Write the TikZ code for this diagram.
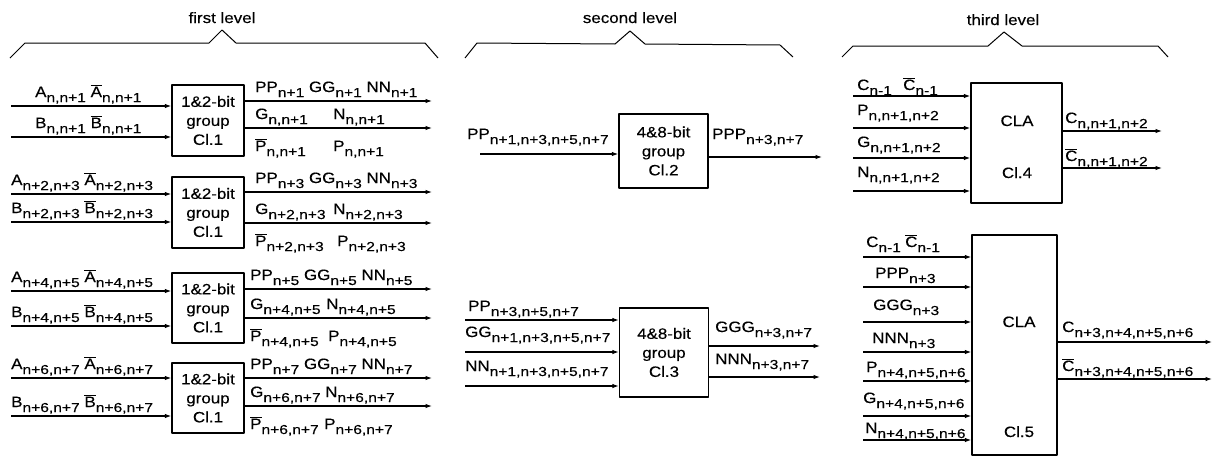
\documentclass[tikz,border=0pt]{standalone}
\usepackage{fontspec}
\setmainfont{Liberation Sans}[FakeStretch=1.13,FakeBold=0.3]
\newfontfamily\subfam{Liberation Sans}[FakeStretch=1.2,FakeBold=0.3]
\usetikzlibrary{arrows.meta}
\newcommand\sbx[1]{\raisebox{-5pt}{\subfam\fontsize{13}{13}\selectfont #1}}
\newcommand\ovb[1]{$\overline{\hbox{#1}}$}
\begin{document}
\begin{tikzpicture}[x=1pt,y=-1pt,line join=round,
  blk/.style={draw,line width=1.3pt,inner sep=0pt,align=center,font=\fontsize{15}{19}\selectfont},
  lab/.style={inner sep=0pt,anchor=base west,font=\fontsize{15}{18}\selectfont},
  ttl/.style={inner sep=0pt,anchor=base,font=\fontsize{15}{18}\selectfont},
  arr/.style={line width=1.1pt,-{Latex[length=6.5pt,width=4.5pt]}},
  brace/.style={line width=1pt}]
\useasboundingbox (0,0) rectangle (1214,466);

% level titles and braces
\node[ttl] (t1) at (222,23) {first level};
\draw[brace] (10,58) -- (25,43) -- (209,43) -- (222,30) -- (236,43) -- (425,43) -- (438,58);
\node[ttl] (t2) at (630,23) {second level};
\draw[brace] (465,58) -- (477,43) -- (615,44) -- (630,31) -- (645,44) -- (780,45) -- (793,57);
\node[ttl] (t3) at (1003,25) {third level};
\draw[brace] (842,57) -- (853,46) -- (988,46) -- (1004,32) -- (1022,46) -- (1158,46) -- (1168,57);

% first level
\foreach \j/\T/\Bo/\ya/\yb/\yo/\yp/\lx/\ox/\nx/\px/\pr/\sg in {
 1/85/156/106/137/101/128/35/255/333/333/{n,n+1}/{n+1},
 2/177/248/194/222/192/223/11/255/333/337/{n+2,n+3}/{n+3},
 3/273/343/291/326/289/318/11/250/326/328/{n+4,n+5}/{n+5},
 4/363/433/378/416/378/406/11/250/325/324/{n+6,n+7}/{n+7}}{
 \node[blk,minimum width=72pt,minimum height={(\Bo-\T)*1pt}] (b\j) at (208,{(\T+\Bo)/2}) {1\&2-bit\\group\\Cl.1};
 \coordinate (ia\j) at (11,\ya);
 \coordinate (ib\j) at (11,\yb);
 \coordinate (oa\j) at (432,\yo);
 \coordinate (ob\j) at (432,\yp);
 \draw[arr] (ia\j) -- (ia\j -| b\j.west);
 \draw[arr] (ib\j) -- (ib\j -| b\j.west);
 \draw[arr] (oa\j -| b\j.east) -- (oa\j);
 \draw[arr] (ob\j -| b\j.east) -- (ob\j);
 \node[lab] (la\j) at (\lx,\ya-9) {A\sbx{\pr} \ovb{A}\sbx{\pr}};
 \node[lab] (lb\j) at (\lx,\yb-9) {B\sbx{\pr} \ovb{B}\sbx{\pr}};
 \node[lab] (lo\j) at (\ox,\yo-9) {PP\sbx{\sg} GG\sbx{\sg} NN\sbx{\sg}};
 \node[lab] (lg\j) at (\ox,\yp-9) {G\sbx{\pr}};
 \node[lab] (ln\j) at (\nx,\yp-9) {N\sbx{\pr}};
 \node[lab] (lq\j) at (\ox,\yp+23) {\ovb{P}\sbx{\pr}};
 \node[lab] (lp\j) at (\px,\yp+23) {P\sbx{\pr}};
}

% second level
\node[blk,minimum width=89pt,minimum height=74pt] (c2) at (663.5,151) {4\&8-bit\\group\\Cl.2};
\coordinate (i2) at (480,154);
\draw[arr] (i2) -- (i2 -| c2.west);
\node[lab] (l2i) at (467,139) {PP\sbx{n+1,n+3,n+5,n+7}};
\coordinate (o2) at (822,157);
\draw[arr] (o2 -| c2.east) -- (o2);
\node[lab] (l2o) at (712,139) {PPP\sbx{n+3,n+7}};

\node[blk,minimum width=89pt,minimum height=89pt] (c3) at (664,352.5) {4\&8-bit\\group\\Cl.3};
\coordinate (i3a) at (465,320);
\coordinate (i3b) at (465,352);
\coordinate (i3c) at (465,386);
\draw[arr] (i3a) -- (i3a -| c3.west);
\draw[arr] (i3b) -- (i3b -| c3.west);
\draw[arr] (i3c) -- (i3c -| c3.west);
\node[lab] (l3a) at (468,311) {PP\sbx{n+3,n+5,n+7}};
\node[lab] (l3b) at (465,337) {GG\sbx{n+1,n+3,n+5,n+7}};
\node[lab] (l3c) at (465,371) {NN\sbx{n+1,n+3,n+5,n+7}};
\coordinate (o3a) at (820,346);
\coordinate (o3b) at (820,377);
\draw[arr] (o3a -| c3.east) -- (o3a);
\draw[arr] (o3b -| c3.east) -- (o3b);
\node[lab] (l3d) at (715,332) {GGG\sbx{n+3,n+7}};
\node[lab] (l3e) at (715,364) {NNN\sbx{n+3,n+7}};

% third level
\node[blk,minimum width=91pt,minimum height=120pt] (c4) at (1016.5,143) {};
\node[ttl] (c4a) at (1017,126) {CLA};
\node[ttl] (c4b) at (1017,178) {Cl.4};
\coordinate (i4a) at (853,96);
\coordinate (i4b) at (853,128);
\coordinate (i4c) at (853,158);
\coordinate (i4d) at (853,191);
\draw[arr] (i4a) -- (i4a -| c4.west);
\draw[arr] (i4b) -- (i4b -| c4.west);
\draw[arr] (i4c) -- (i4c -| c4.west);
\draw[arr] (i4d) -- (i4d -| c4.west);
\node[lab] (l4a) at (857,90) {C\sbx{n-1}};
\node[lab] (l4a2) at (903,90) {\ovb{C}\sbx{n-1}};
\node[lab] (l4b) at (857,115) {P\sbx{n,n+1,n+2}};
\node[lab] (l4c) at (857,147) {G\sbx{n,n+1,n+2}};
\node[lab] (l4d) at (857,177) {N\sbx{n,n+1,n+2}};
\coordinate (o4a) at (1162,131);
\coordinate (o4b) at (1162,168);
\draw[arr] (o4a -| c4.east) -- (o4a);
\draw[arr] (o4b -| c4.east) -- (o4b);
\node[lab] (l4e) at (1065,123) {C\sbx{n,n+1,n+2}};
\node[lab] (l4f) at (1065,161) {\ovb{C}\sbx{n,n+1,n+2}};

\node[blk,minimum width=85pt,minimum height=220pt] (c5) at (1014.5,345) {};
\node[ttl] (c5a) at (1019,327) {CLA};
\node[ttl] (c5b) at (1019,437) {Cl.5};
\foreach \k/\yy in {a/257,b/287,c/322,d/352,e/381,f/416,g/440}{
 \coordinate (i5\k) at (863,\yy);
 \draw[arr] (i5\k) -- (i5\k -| c5.west);
}
\node[lab] (l5a) at (866,247) {C\sbx{n-1}};
\node[lab] (l5a2) at (905,247) {\ovb{C}\sbx{n-1}};
\node[lab] (l5b) at (875,278) {PPP\sbx{n+3}};
\node[lab] (l5c) at (873,310) {GGG\sbx{n+3}};
\node[lab] (l5d) at (872,343) {NNN\sbx{n+3}};
\node[lab] (l5e) at (866,372) {P\sbx{n+4,n+5,n+6}};
\node[lab] (l5f) at (863,403) {G\sbx{n+4,n+5,n+6}};
\node[lab] (l5g) at (865,433) {N\sbx{n+4,n+5,n+6}};
\coordinate (o5a) at (1212,342);
\coordinate (o5b) at (1212,379);
\draw[arr] (o5a -| c5.east) -- (o5a);
\draw[arr] (o5b -| c5.east) -- (o5b);
\node[lab] (l5h) at (1062,332) {C\sbx{n+3,n+4,n+5,n+6}};
\node[lab] (l5i) at (1062,371) {\ovb{C}\sbx{n+3,n+4,n+5,n+6}};
\end{tikzpicture}
\end{document}
